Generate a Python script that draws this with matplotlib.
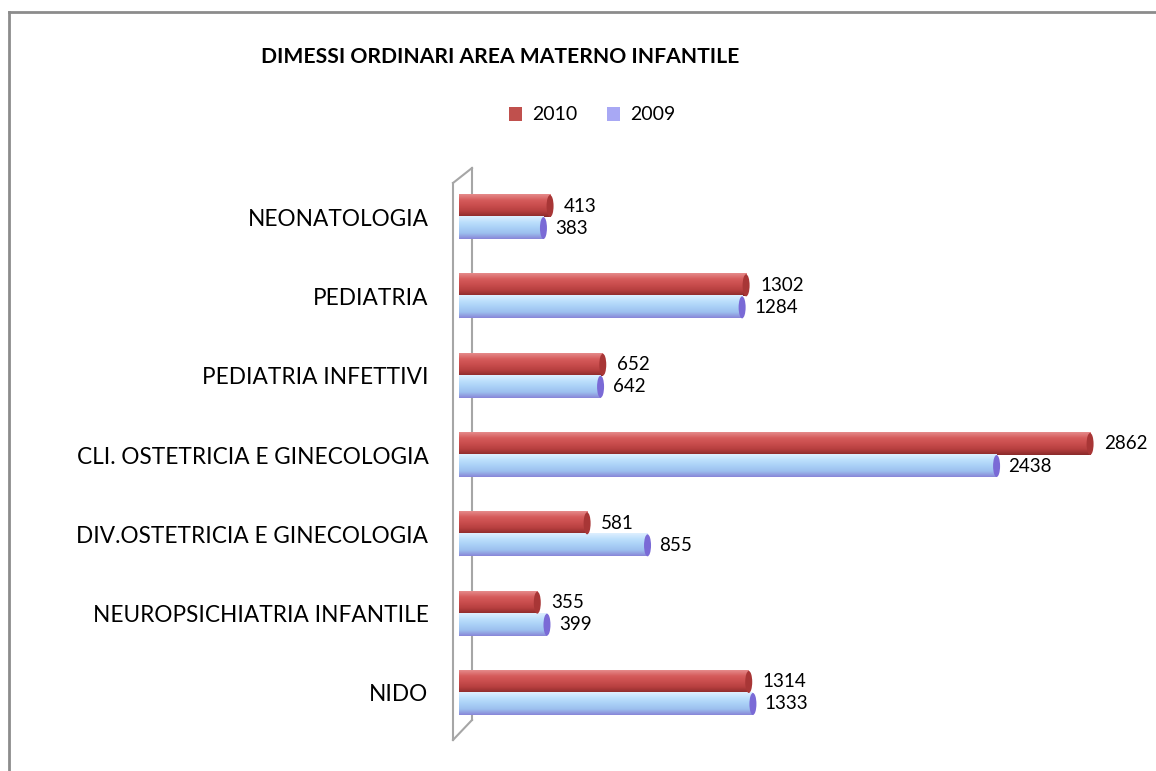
import numpy as np
import matplotlib
matplotlib.use("Agg")
import matplotlib.pyplot as plt
from matplotlib.patches import Ellipse, Patch
from matplotlib.lines import Line2D
from matplotlib.colors import LinearSegmentedColormap

plt.rcParams['font.family'] = ['Lato', 'DejaVu Sans']

categories = ["NEONATOLOGIA", "PEDIATRIA", "PEDIATRIA INFETTIVI",
              "CLI. OSTETRICIA E GINECOLOGIA", "DIV.OSTETRICIA E GINECOLOGIA",
              "NEUROPSICHIATRIA INFANTILE", "NIDO"]
values_2010 = [413, 1302, 652, 2862, 581, 355, 1314]
values_2009 = [383, 1284, 642, 2438, 855, 399, 1333]
series_names = ["2010", "2009"]
title = "DIMESSI ORDINARI AREA MATERNO INFANTILE"

W, H = 1156, 771
fig = plt.figure(figsize=(W / 100, H / 100), dpi=100)

# axes geometry (pixels)
x0_px, x1_px = 459, 1150
top_px, bot_px = 150, 760
ax = fig.add_axes([x0_px / W, 1 - bot_px / H, (x1_px - x0_px) / W, (bot_px - top_px) / H])
scale = 0.2205  # px per unit
ax.set_xlim(0, (x1_px - x0_px) / scale)
n = len(categories)
ypos = np.arange(n)[::-1]  # first category on top
step_px = 79.3
ax.set_ylim(-(bot_px - 693) / step_px, (n - 1) + (217 - top_px) / step_px)

bh = 22 / step_px
off = 11 / step_px
cap_w = 7 / scale

red_grad = ["#e58a8a", "#d65c5c", "#c94d4d", "#b63f3f", "#8a2a2a"]
blue_grad = ["#deefff", "#bde0fc", "#aad1f7", "#9cc0ee", "#8886d8"]

cm_red = LinearSegmentedColormap.from_list("r", red_grad)
cm_blue = LinearSegmentedColormap.from_list("b", blue_grad)
grad = np.linspace(0, 1, 64).reshape(-1, 1)


def cyl(v, yc, cmap, capcol):
    y0, y1 = yc - bh / 2, yc + bh / 2
    ax.imshow(grad, cmap=cmap, extent=(0, v, y0, y1), origin="upper",
              aspect="auto", zorder=2, interpolation="bilinear")
    ax.add_patch(Ellipse((v, yc), cap_w, bh, facecolor=capcol, edgecolor="none", zorder=3))
    ax.add_patch(Ellipse((0, yc), cap_w * 0.6, bh, facecolor=cmap(0.5), edgecolor="none", zorder=1.9))


for yc, v10, v09 in zip(ypos, values_2010, values_2009):
    cyl(v10, yc + off, cm_red, "#a83636")
    cyl(v09, yc - off, cm_blue, "#7a6ad6")
    ax.text(v10 + 14 / scale, yc + off, str(v10), va="center", ha="left", fontsize=13.5, color="black")
    ax.text(v09 + 12 / scale, yc - off, str(v09), va="center", ha="left", fontsize=13.5, color="black")

ax.set_yticks(ypos)
ax.set_yticklabels(categories, fontsize=16.3)
ax.tick_params(axis="y", length=0, pad=22)
ax.set_xticks([])
for s in ax.spines.values():
    s.set_visible(False)
ax.patch.set_alpha(0)

ftr = fig.transFigure


def fl(xs, ys, color="#a6a6a6", lw=1.5):
    fig.add_artist(Line2D([x / W for x in xs], [1 - y / H for y in ys], color=color, lw=lw,
                          transform=ftr, zorder=0))


# back wall
fl([453, 453], [183, 740])
fl([472, 472], [168, 720])
fl([453, 472], [183, 168])
fl([453, 472], [740, 720])

# outer border
fl([9, W], [12, 12], color="#8c8c8c", lw=2)
fl([9, 9], [12, H], color="#8c8c8c", lw=2)

fig.text(500 / W, 1 - 57 / H, title, ha="center", va="center", fontsize=15.2, fontweight="bold")

handles = [Patch(facecolor="#c0504d", edgecolor="none"),
           Patch(facecolor="#a8a8f4", edgecolor="none")]
fig.legend(handles, series_names, loc="center", bbox_to_anchor=(592 / W, 1 - 115 / H), ncol=2,
           frameon=False, fontsize=14, handlelength=0.7, handleheight=0.7, handletextpad=0.5,
           columnspacing=1.5)

fig.savefig("out.png", dpi=100)
